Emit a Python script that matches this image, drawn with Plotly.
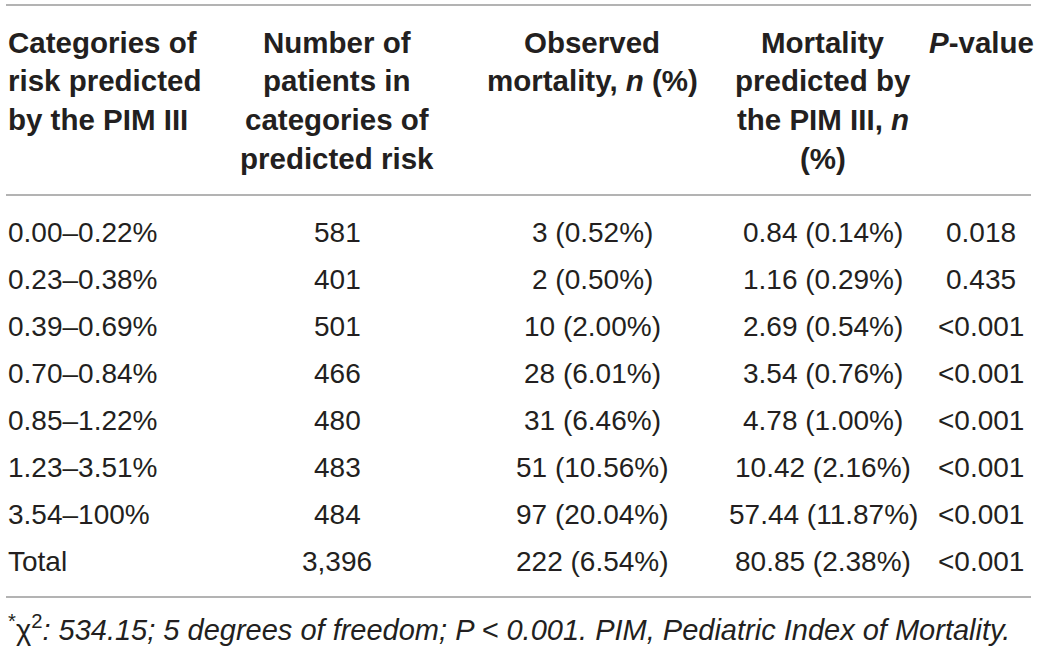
import plotly.graph_objects as go

# ---- data ----
categories = ["0.00–0.22%", "0.23–0.38%", "0.39–0.69%", "0.70–0.84%",
              "0.85–1.22%", "1.23–3.51%", "3.54–100%", "Total"]
n_patients = ["581", "401", "501", "466", "480", "483", "484", "3,396"]
observed = ["3 (0.52%)", "2 (0.50%)", "10 (2.00%)", "28 (6.01%)",
            "31 (6.46%)", "51 (10.56%)", "97 (20.04%)", "222 (6.54%)"]
predicted = ["0.84 (0.14%)", "1.16 (0.29%)", "2.69 (0.54%)", "3.54 (0.76%)",
             "4.78 (1.00%)", "10.42 (2.16%)", "57.44 (11.87%)", "80.85 (2.38%)"]
p_values = ["0.018", "0.435", "<0.001", "<0.001", "<0.001", "<0.001", "<0.001", "<0.001"]

headers = [
    ["Categories of", "risk predicted", "by the PIM III"],
    ["Number of", "patients in", "categories of", "predicted risk"],
    ["Observed", "mortality, <i>n</i> (%)"],
    ["Mortality", "predicted by", "the PIM III, <i>n</i>", "(%)"],
    ["<i>P</i>-value"],
]
footnote = ("<sup>*</sup>χ<sup>2</sup><i>: 534.15; 5 degrees of freedom; P &lt; 0.001. "
            "PIM, Pediatric Index of Mortality.</i>")

# ---- layout constants ----
W, H = 1040, 652
col_x = [6, 337, 592, 823, 981]
col_anchor = ["left", "center", "center", "center", "center"]
head_y0, head_dy = 42, 38.7
row_y0, row_dy = 232, 47.1
TEXT = "#231f20"
LINE = "#9a9a9a"
FONT = "Liberation Sans, Arial, Helvetica, sans-serif"

fig = go.Figure()
ann = []
for c, lines in enumerate(headers):
    for i, t in enumerate(lines):
        ann.append(dict(x=col_x[c], y=head_y0 + i * head_dy, text="<b>" + t + "</b>",
                        xanchor=col_anchor[c], yanchor="middle", showarrow=False,
                        font=dict(family=FONT, size=29.5, color=TEXT)))

columns = [categories, n_patients, observed, predicted, p_values]
for c, col in enumerate(columns):
    for r, t in enumerate(col):
        ann.append(dict(x=col_x[c], y=row_y0 + r * row_dy, text=t,
                        xanchor=col_anchor[c], yanchor="middle", showarrow=False,
                        font=dict(family=FONT, size=28, color=TEXT)))

ann.append(dict(x=6, y=628, text=footnote, xanchor="left", yanchor="middle",
                showarrow=False, font=dict(family=FONT, size=29, color=TEXT)))

shapes = []
for y in [5, 195, 597]:
    shapes.append(dict(type="line", x0=6, x1=1031, y0=y, y1=y,
                       line=dict(color=LINE, width=1.5)))

fig.update_layout(
    width=W, height=H, margin=dict(l=0, r=0, t=0, b=0),
    paper_bgcolor="white", plot_bgcolor="white",
    xaxis=dict(range=[0, W], visible=False, fixedrange=True),
    yaxis=dict(range=[H, 0], visible=False, fixedrange=True),
    annotations=ann, shapes=shapes, showlegend=False,
)
fig.write_html("out.html", config={"displayModeBar": False},
               post_script="document.body.style.margin='0';document.body.style.overflow='hidden';")
